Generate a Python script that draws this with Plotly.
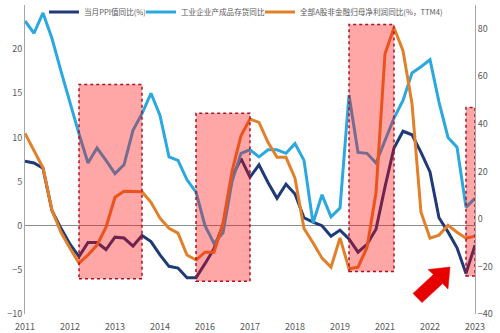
import plotly.graph_objects as go

tick_labels = ["2011", "2012", "2013", "2014", "2016", "2017", "2018", "2019", "2021", "2022", "2023"]
quarters = list(range(51))  # 2011Q1 .. 2023Q3

ppi = [7.3, 7.1, 6.5, 1.7, -0.3, -2.1, -3.5, -1.9, -1.9, -2.7, -1.3, -1.4,
       -2.3, -1.1, -1.8, -3.3, -4.6, -4.8, -5.9, -5.9, -4.3, -2.6, 0.1, 5.5,
       7.6, 5.5, 6.9, 4.9, 3.1, 4.7, 3.6, 0.9, 0.4, 0.0, -1.2, -0.5, -1.5,
       -3.0, -2.1, -0.4, 4.4, 8.8, 10.7, 10.3, 8.3, 6.1, 0.9, -0.7, -2.5, -5.4, -2.2]

inventory = [23.2, 21.8, 24.1, 21.2, 17.5, 13.8, 10.4, 7.1, 8.8, 7.4, 5.9, 6.9,
             10.8, 12.7, 15.0, 12.5, 7.8, 7.4, 5.2, 3.8, 0.0, -2.0, -0.8, 5.0,
             8.2, 8.6, 7.8, 8.6, 8.6, 8.2, 9.3, 7.4, 0.3, 3.5, 1.0, 2.0, 14.8,
             8.3, 8.2, 7.1, 9.7, 12.2, 14.2, 17.3, 18.0, 18.8, 14.0, 10.0, 8.9, 2.1, 3.1]

profit = [36, 29, 21.5, 3.6, -5.6, -12.3, -18.6, -15.2, -11.0, -3.5, 9.1, 11.6,
          11.6, 11.4, 7.0, 0.3, -3.9, -6.0, -15.2, -17.3, -14.0, -14.0, -2.0, 20.0,
          35.0, 42.0, 40.6, 32.2, 25.9, 25.9, 17.1, -4.0, -10.0, -16.5, -20.3, -8.0,
          -21.0, -20.3, -12.0, 11.0, 69.5, 80.4, 70.8, 48.5, 2.8, -8.1, -6.8, -2.7,
          -5.6, -8.1, -7.3]

# highlighted periods: (start quarter, end quarter, bottom, top) on left axis
box_x0 = [6, 19, 36, 49]
box_x1 = [13, 25, 41, 50]
box_y0 = [-6.0, -6.3, -5.2, -5.7]
box_y1 = [16.0, 12.75, 22.8, 13.4]

names = ["当月PPI值同比(%)", "工业企业产成品存货同比", "全部A股非金融归母净利润同比(%，TTM4)"]
colors = ["#1F3A78", "#2AA8DF", "#E2802A"]

FONT = "Noto Sans CJK SC"
GREY = "#595959"

fig = go.Figure()
fig.add_trace(go.Scatter(x=quarters, y=ppi, name=names[0], mode="lines",
                         line=dict(color=colors[0], width=3), yaxis="y", legend="legend"))
fig.add_trace(go.Scatter(x=quarters, y=inventory, name=names[1], mode="lines",
                         line=dict(color=colors[1], width=3), yaxis="y", legend="legend2"))
fig.add_trace(go.Scatter(x=quarters, y=profit, name=names[2], mode="lines",
                         line=dict(color=colors[2], width=3), yaxis="y2", legend="legend3"))

for x0, x1, y0, y1 in zip(box_x0, box_x1, box_y0, box_y1):
    fig.add_shape(type="rect", xref="x", yref="y", x0=x0, x1=x1, y0=y0, y1=y1,
                  fillcolor="rgba(255,0,0,0.35)", layer="above",
                  line=dict(color="#B01020", width=1.5, dash="dot"))

# red arrow (decoration), paper coordinates
W, H, L, T = 450.0, 309.0, 25.0, 5.0
def px(x, y):
    return (x - L) / W, (T + H - y) / H
pts = [(450, 267), (428, 269.5), (433.4, 274.6), (413, 293.4), (422, 302.6),
       (442.6, 283.6), (448, 289)]
path = "M " + " L ".join("%.4f,%.4f" % px(a, b) for a, b in pts) + " Z"
fig.add_shape(type="path", xref="paper", yref="paper", path=path,
              fillcolor="#E60000", line=dict(color="#E60000", width=0.5), layer="above")

def leg(xpix):
    return dict(orientation="h", x=(xpix - L) / W, y=0.977, xanchor="left", yanchor="middle",
                bgcolor="rgba(0,0,0,0)", font=dict(size=7.6, color=GREY, family=FONT),
                itemwidth=30)

fig.update_layout(
    width=500, height=333,
    margin=dict(l=25, r=25, t=5, b=19, autoexpand=False),
    paper_bgcolor="white", plot_bgcolor="white",
    font=dict(family=FONT, color=GREY, size=9),
    showlegend=True,
    legend=leg(44), legend2=leg(141), legend3=leg(260),
    xaxis=dict(range=[0, 50], tickmode="array", tickvals=list(range(0, 51, 5)),
               ticktext=tick_labels, showgrid=False, zeroline=False, showline=False,
               ticks="", ticklabelstandoff=6, automargin=False,
               tickfont=dict(size=9, color=GREY)),
    yaxis=dict(range=[-10, 25], dtick=5, showgrid=False, zeroline=True,
               zerolinecolor="#8C8C8C", zerolinewidth=1, showline=True,
               linecolor="#A6A6A6", linewidth=1, ticks="", automargin=False,
               tickfont=dict(size=9, color=GREY)),
    yaxis2=dict(range=[-40, 90], dtick=20, overlaying="y", side="right",
                showgrid=False, zeroline=False, showline=True,
                linecolor="#A6A6A6", linewidth=1, ticks="", automargin=False,
                tickfont=dict(size=9, color=GREY)),
)

fig.write_html("out.html")
